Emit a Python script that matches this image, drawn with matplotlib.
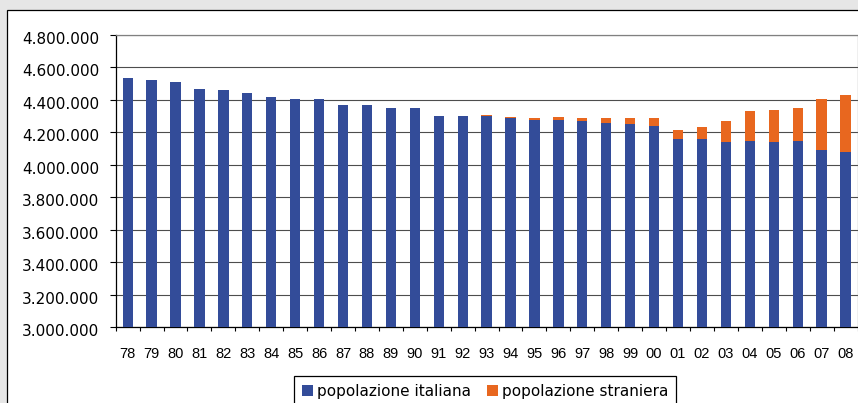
import matplotlib
matplotlib.use("Agg")
import matplotlib.pyplot as plt
from matplotlib import font_manager
from matplotlib.patches import Rectangle
from matplotlib.ticker import FixedLocator, FuncFormatter
import matplotlib.transforms as mtransforms
import numpy as np

# ---- data ----
years = ["78", "79", "80", "81", "82", "83", "84", "85", "86", "87", "88", "89",
         "90", "91", "92", "93", "94", "95", "96", "97", "98", "99", "00", "01",
         "02", "03", "04", "05", "06", "07", "08"]
pop_italiana = [4533000, 4521000, 4509000, 4466000, 4460000, 4441000, 4417000,
                4404000, 4403000, 4367000, 4366000, 4349000, 4348000, 4300000,
                4299000, 4299000, 4288000, 4276000, 4275000, 4269000, 4257000,
                4250000, 4238000, 4158000, 4158000, 4140000, 4146000, 4140000,
                4146000, 4091000, 4078000]
pop_straniera = [0, 0, 0, 0, 0, 0, 0, 0, 0, 0, 0, 0, 0, 0, 0,
                 6000, 6000, 12000, 19000, 18000, 31000, 37000, 49000, 55000,
                 74000, 129000, 184000, 197000, 203000, 314000, 351000]
series_labels = ["popolazione italiana", "popolazione straniera"]
y_ticks = [3000000, 3200000, 3400000, 3600000, 3800000, 4000000, 4200000,
           4400000, 4600000, 4800000]

# ---- fonts ----
names = {f.name for f in font_manager.fontManager.ttflist}
if "Liberation Sans Narrow" in names:
    xfont, xsize = "Liberation Sans Narrow", 11.4
elif "DejaVu Sans Condensed" in names:
    xfont, xsize = "DejaVu Sans Condensed", 10.5
else:
    xfont, xsize = "Liberation Sans", 10.5

W, H = 858, 403
fig = plt.figure(figsize=(W / 100, H / 100), dpi=100, facecolor="#e6e6e6")

frame = Rectangle((7 / W, -0.2), 1.5, 1 - 10 / H + 0.2, transform=fig.transFigure,
                  facecolor="white", edgecolor="black", linewidth=0.9, zorder=-5)
fig.patches.append(frame)

left, right = 115.7 / W, 857.5 / W
top, bottom = 1 - 34.7 / H, 1 - 327.3 / H
ax = fig.add_axes([left, bottom, right - left, top - bottom])
ax.set_zorder(2)
ax.set_facecolor("white")

x = np.arange(len(years))
blue = "#334C99"
orange = "#E8671F"
b1 = ax.bar(x, pop_italiana, width=0.43, color=blue, zorder=3,
            label=series_labels[0])
b2 = ax.bar(x, pop_straniera, width=0.43, bottom=pop_italiana, color=orange,
            zorder=3, label=series_labels[1])

ax.set_xlim(-0.5, len(years) - 0.5)
ax.set_ylim(3000000, 4800000)

ax.yaxis.set_major_locator(FixedLocator(y_ticks))
ax.yaxis.set_major_formatter(FuncFormatter(lambda v, p: f"{int(v):,}".replace(",", ".")))
ax.grid(axis="y", color="#4d4d4d", linewidth=0.8, zorder=1)
ax.set_axisbelow(True)

ax.set_xticks(x)
ax.set_xticklabels(years, fontfamily=xfont, fontsize=xsize)
ax.set_xticks(np.arange(-0.5, len(years) + 0.5, 1), minor=True)
ax.tick_params(axis="x", which="major", length=0, pad=14.5, colors="black")
ax.tick_params(axis="x", which="minor", length=3.2, width=0.8, direction="out", color="black")
ax.tick_params(axis="y", which="major", length=4, width=0.8, direction="out", pad=7.9,
               labelsize=11)
for lab in ax.get_yticklabels():
    lab.set_fontfamily("DejaVu Sans")
offset = mtransforms.ScaledTranslation(0, -0.03, fig.dpi_scale_trans)
for lab in ax.yaxis.get_majorticklabels():
    lab.set_transform(lab.get_transform() + offset)

for s in ["left", "bottom"]:
    ax.spines[s].set_color("black")
    ax.spines[s].set_linewidth(0.9)
for s in ["top", "right"]:
    ax.spines[s].set_color("#808080")
    ax.spines[s].set_linewidth(0.9)

leg = fig.legend(handles=[b1, b2], labels=series_labels, loc="upper left",
                 bbox_to_anchor=(294 / W, 1 - 376 / H), ncol=2,
                 prop={"family": "DejaVu Sans", "size": 11},
                 frameon=True, fancybox=False, shadow=False, framealpha=1,
                 edgecolor="black", borderpad=0.5, handlelength=0.75,
                 handleheight=0.75, handletextpad=0.27, columnspacing=1.0,
                 borderaxespad=0)
leg.get_frame().set_linewidth(0.9)

fig.savefig("out.png", dpi=100, facecolor=fig.get_facecolor())
